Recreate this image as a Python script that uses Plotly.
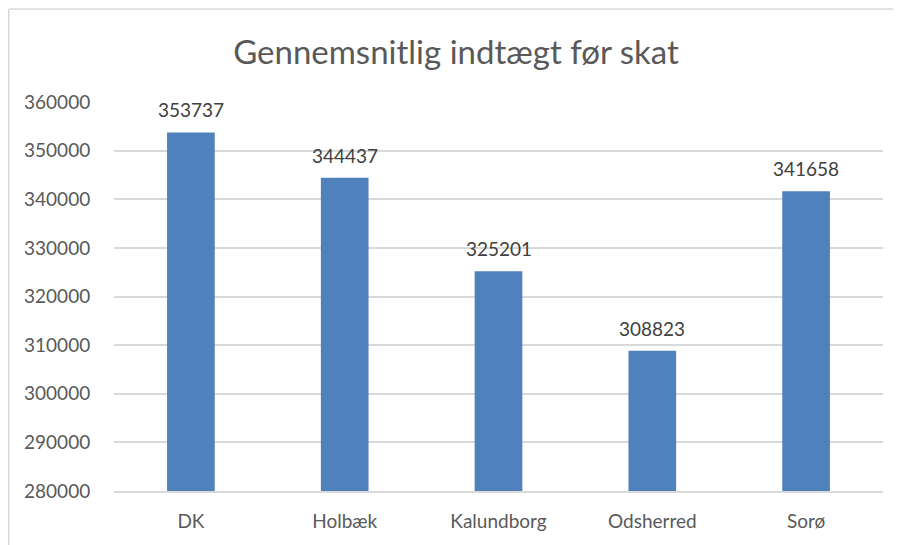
import plotly.graph_objects as go

categories = ["DK", "Holbæk", "Kalundborg", "Odsherred", "Sorø"]
values = [353737, 344437, 325201, 308823, 341658]
y_ticks = [280000, 290000, 300000, 310000, 320000, 330000, 340000, 350000, 360000]
title_text = "Gennemsnitlig indtægt før skat"

# page has an 8px body offset, so the figure is 8px smaller
W, H = 893, 537
L, R, T, B = 106, 18, 94, 54
pw, ph = W - L - R, H - T - B

fig = go.Figure()
fig.add_trace(go.Bar(
    x=categories, y=values, marker=dict(color="#4f81bd", line=dict(width=0)),
    width=0.31, hoverinfo="x+y",
))

for c, v in zip(categories, values):
    fig.add_annotation(x=c, y=v, text=str(v), showarrow=False, yanchor="bottom",
                       yshift=9, font=dict(family="Lato", size=19, color="#404040"))

# outer chart border (left and top visible)
bx = (0.75 - L) / pw
by = (H - B - 1) / ph
fig.add_shape(type="line", xref="paper", yref="paper", x0=bx, x1=(W - L + 2) / pw, y0=by, y1=by,
              line=dict(color="#d9d9d9", width=1.5))
fig.add_shape(type="line", xref="paper", yref="paper", x0=bx, x1=bx, y0=by, y1=-(B + 2) / ph,
              line=dict(color="#d9d9d9", width=1.5))

fig.update_layout(
    width=W, height=H, margin=dict(l=L, r=R, t=T, b=B),
    paper_bgcolor="white", plot_bgcolor="white", showlegend=False,
    title=dict(text=title_text, x=448 / W, xref="container", xanchor="center", y=1 - 44 / H, yanchor="middle",
               font=dict(family="Lato", size=33, color="#595959")),
    xaxis=dict(showgrid=False, showline=True, linecolor="#d9d9d9", linewidth=1.5,
               ticks="outside", ticklen=12, tickcolor="rgba(0,0,0,0)",
               tickfont=dict(family="Lato", size=19, color="#595959")),
    yaxis=dict(range=[280000, 360000], tickvals=y_ticks, ticktext=[str(t) for t in y_ticks],
               showgrid=True, gridcolor="#d9d9d9", gridwidth=1.5, zeroline=False, showline=False,
               ticks="outside", ticklen=19, tickcolor="rgba(0,0,0,0)",
               tickfont=dict(family="Lato", size=19, color="#595959")),
)

fig.write_html("out.html")
